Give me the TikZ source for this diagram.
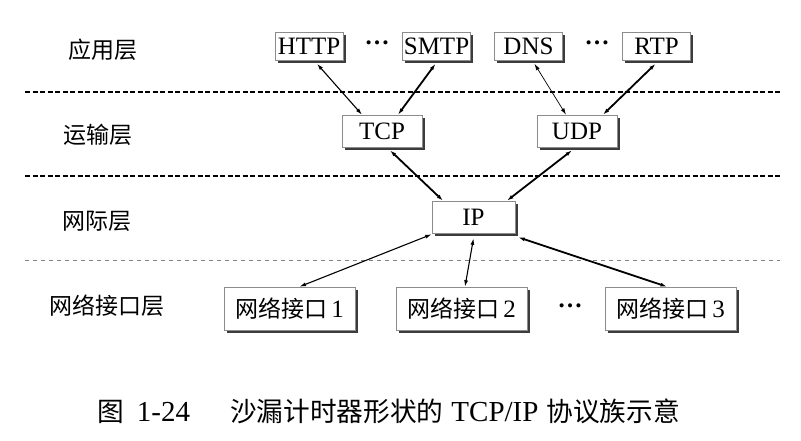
\documentclass[tikz,border=0pt]{standalone}
\usepackage{fontspec}
\setmainfont{Liberation Serif}
\newfontfamily\cjk{Noto Sans CJK SC}[Scale=0.92]
\usepackage{tikz}
\usetikzlibrary{arrows.meta, shadows}
\definecolor{shadowgray}{RGB}{60,60,60}
\definecolor{boxline}{RGB}{140,140,140}

\tikzset{
  proto/.style={draw=boxline, line width=0.6pt, fill=white, inner sep=1pt,
    minimum width=68pt, minimum height=28pt,
    drop shadow={shadow xshift=2.5pt, shadow yshift=-2.5pt, fill=shadowgray, opacity=1}},
  layer/.style={inner sep=0pt},
  link/.style={{Latex[length=6.5pt,width=4pt]}-{Latex[length=6.5pt,width=4pt]}, line width=1.1pt},
  thinlink/.style={link, line width=0.7pt},
  boldlink/.style={link, line width=1.8pt},
  sepline/.style={dash pattern=on 5pt off 2.5pt, line width=1.8pt},
  thinsep/.style={dash pattern=on 4pt off 4pt, line width=0.6pt, gray}
}
\newcommand{\hdots}{\textbf{\raisebox{7pt}{…}}}

\begin{document}
\begin{tikzpicture}[x=1pt, y=-1pt, font=\fontsize{25}{30}\selectfont] % one unit = one pixel of the reference
    \useasboundingbox (0,0) rectangle (801,440);

    % Layer separators
    \draw[sepline] (25,92) -- (780,92);
    \draw[sepline] (25,176) -- (780,176);
    \draw[thinsep] (25,260) -- (780,260);

    % Layer names on the left
    \node[layer] (lapp) at (103,50) {\cjk 应用层};
    \node[layer] (ltrans) at (98,135) {\cjk 运输层};
    \node[layer] (lnet) at (97,221) {\cjk 网际层};
    \node[layer] (llink) at (107,306) {\cjk 网络接口层};

    % Application layer protocols
    \node[proto] (http) at (309,46.5) {HTTP};
    \node (dotsa) at (377,46) {\hdots};
    \node[proto] (smtp) at (436.5,46.5) {SMTP};
    \node[proto] (dns) at (528.5,46.5) {DNS};
    \node (dotsb) at (597,46) {\hdots};
    \node[proto] (rtp) at (656.5,46.5) {RTP};

    % Transport layer
    \node[proto, minimum width=80pt, minimum height=32pt] (tcp) at (382,131) {TCP};
    \node[proto, minimum width=80pt, minimum height=32pt] (udp) at (577,131) {UDP};

    % Internet layer
    \node[proto, minimum width=83pt, minimum height=32pt] (ip) at (473.5,217) {IP};

    % Network interfaces
    \node[proto, minimum width=131pt, minimum height=43pt] (nia) at (289.5,308.5) {{\cjk 网络接口}\,1};
    \node[proto, minimum width=131pt, minimum height=43pt] (nib) at (461.5,308.5) {{\cjk 网络接口}\,2};
    \node (dotsc) at (570,309) {\hdots};
    \node[proto, minimum width=131pt, minimum height=43pt] (nic) at (670.5,308.5) {{\cjk 网络接口}\,3};

    % Connections application -- transport
    \draw[link] ([xshift=8pt,yshift=-3pt]http.south) -- ([xshift=-20pt]tcp.north);
    \draw[boldlink] ([xshift=-1pt,yshift=-3pt]smtp.south) -- ([xshift=16pt]tcp.north);
    \draw[thinlink] ([xshift=6pt,yshift=-3pt]dns.south) -- ([xshift=-11pt]udp.north);
    \draw[boldlink] ([xshift=-1pt,yshift=-3pt]rtp.south) -- ([xshift=26pt]udp.north);

    % Connections transport -- internet
    \draw[boldlink] ([xshift=8pt,yshift=-3pt]tcp.south) -- ([xshift=-30.5pt]ip.north);
    \draw[boldlink] ([xshift=-5pt,yshift=-3pt]udp.south) -- ([xshift=33.5pt]ip.north);

    % Connections internet -- network interfaces
    \draw[link] ([yshift=-1pt]ip.south west) -- ([xshift=10pt]nia.north);
    \draw[link] ([yshift=-5pt]ip.south) -- ([xshift=3.5pt]nib.north);
    \draw[boldlink] ([xshift=3pt,yshift=-4pt]ip.south east) -- ([xshift=-3.5pt]nic.north);

    % Caption
    \node[anchor=west, inner sep=0pt, font=\fontsize{29}{34}\selectfont] (caption) at (97,411)
      {{\cjk 图}\hspace{13pt}1-24\hspace{40pt}{\cjk 沙漏计时器形状的}\hspace{8pt}TCP/IP\hspace{8pt}{\cjk 协议族示意}};

\end{tikzpicture}
\end{document}
